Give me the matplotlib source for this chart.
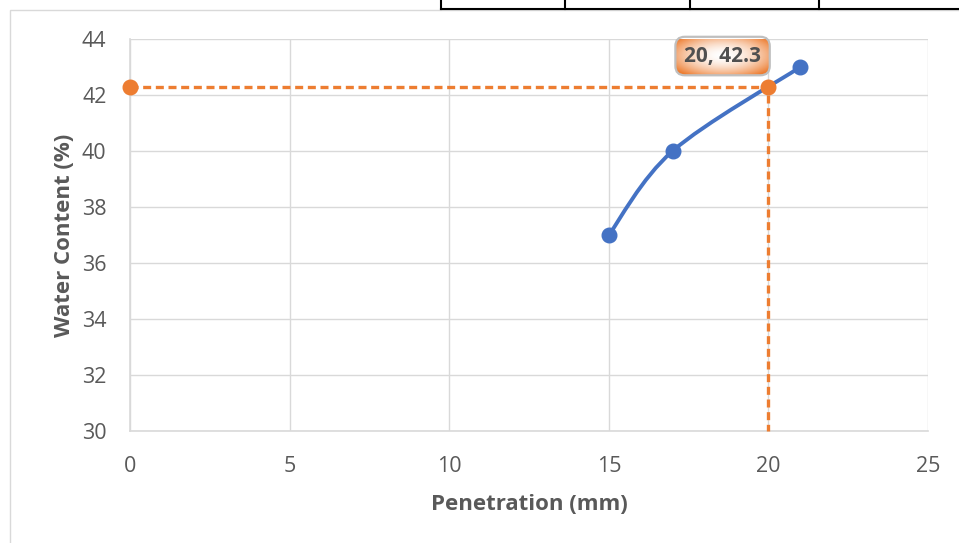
import numpy as np
import matplotlib
matplotlib.use("Agg")
import matplotlib.pyplot as plt
from matplotlib.path import Path
from matplotlib.patches import PathPatch, Rectangle
from matplotlib.lines import Line2D

# data
penetration = [15, 17, 21]
water_content = [37, 40, 43]

guide_x = [0, 20, 20]
guide_y = [42.3, 42.3, 30]
label_text = "20, 42.3"

x_ticks = [0, 5, 10, 15, 20, 25]
y_ticks = [30, 32, 34, 36, 38, 40, 42, 44]

blue = "#4472C4"
orange = "#ED7D31"
grey_txt = "#595959"
grid_c = "#D9D9D9"

plt.rcParams["font.family"] = ["Open Sans", "DejaVu Sans"]

fig = plt.figure(figsize=(9.59, 5.43), dpi=100)
ax = fig.add_axes([130 / 959, 1 - 431 / 543, 798 / 959, 392 / 543])

# chart frame and the table edge above it
fig.add_artist(Rectangle((10 / 959, -0.1), 1.2, 1.1 - 10 / 543, transform=fig.transFigure,
                         fill=False, ec=grid_c, lw=1.0))
fig.add_artist(Line2D([441 / 959, 1], [1 - 9 / 543] * 2, transform=fig.transFigure, color="black", lw=1.5))
for xp in [441, 565, 690, 819]:
    fig.add_artist(Line2D([xp / 959] * 2, [1 - 9 / 543, 1], transform=fig.transFigure, color="black", lw=1.5))

# smoothed line like Excel's "smoothed line" option (Catmull-Rom -> Bezier)
pts = np.column_stack([penetration, water_content]).astype(float)
verts = [pts[0]]
codes = [Path.MOVETO]
n = len(pts)
for i in range(n - 1):
    p0 = pts[max(i - 1, 0)]
    p1 = pts[i]
    p2 = pts[i + 1]
    p3 = pts[min(i + 2, n - 1)]
    verts += [p1 + (p2 - p0) / 6, p2 - (p3 - p1) / 6, p2]
    codes += [Path.CURVE4] * 3
ax.add_patch(PathPatch(Path(verts, codes), fill=False, ec=blue, lw=2.8,
                       capstyle="round", zorder=3))
ax.plot(penetration, water_content, "o", color=blue, ms=10.5, zorder=4, clip_on=False)

ax.plot(guide_x, guide_y, color=orange, lw=2.4, ls=(0, (2.4, 1.4)), marker="o",
        ms=10.5, markevery=[0, 1], zorder=5, clip_on=False)

ax.set_xlim(0, 25)
ax.set_ylim(30, 44)
ax.set_xticks(x_ticks)
ax.set_yticks(y_ticks)
ax.grid(True, color=grid_c, lw=1.0)
ax.set_axisbelow(True)
for s in ["top", "right"]:
    ax.spines[s].set_visible(False)
for s in ["left", "bottom"]:
    ax.spines[s].set_color(grid_c)
    ax.spines[s].set_linewidth(1.2)
ax.tick_params(length=0, labelsize=15.5, labelcolor=grey_txt)
ax.tick_params(axis="x", pad=18)
ax.tick_params(axis="y", pad=17)

ax.set_xlabel("Penetration (mm)", fontsize=16, fontweight="bold", color=grey_txt, labelpad=12)
ax.set_ylabel("Water Content (%)", fontsize=16, fontweight="bold", color=grey_txt, labelpad=5)

ann = ax.annotate(label_text, (guide_x[1], guide_y[1]), xytext=(-33, 22), textcoords="offset points",
                  ha="center", va="center", fontsize=15, fontweight="bold", color="#505050",
                  bbox=dict(boxstyle="round,pad=0.42,rounding_size=0.45", fc="none", ec="#BFBFBF", lw=1.6),
                  zorder=7, annotation_clip=False)

# radial gradient fill behind the label box
fig.canvas.draw()
bb = ann.get_bbox_patch().get_window_extent()
inv = ax.transData.inverted()
(x0, y0), (x1, y1) = inv.transform([[bb.x0, bb.y0], [bb.x1, bb.y1]])
gx, gy = np.meshgrid(np.linspace(-1, 1, 120), np.linspace(-1, 1, 60))
r = np.clip(np.sqrt(gx ** 2 + gy ** 2) / 1.25, 0, 1)
c0 = np.array([1.0, 1.0, 1.0])
c1 = np.array(matplotlib.colors.to_rgb(orange))
img = c0 + (c1 - c0) * r[..., None] ** 1.8
im = ax.imshow(img, extent=[x0, x1, y0, y1], aspect="auto", zorder=6, interpolation="bilinear")
im.set_clip_path(ann.get_bbox_patch())
ax.set_xlim(0, 25)
ax.set_ylim(30, 44)

fig.savefig("out.png", dpi=100)
